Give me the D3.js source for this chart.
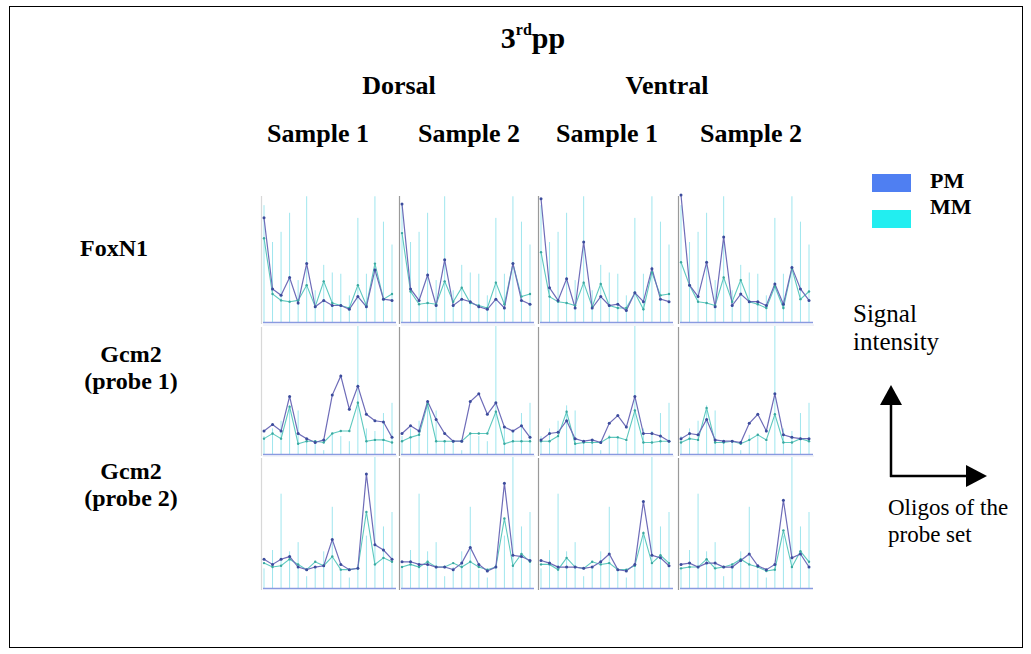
<!DOCTYPE html>
<html><head><meta charset="utf-8">
<script src="https://cdn.jsdelivr.net/npm/d3@7"></script>
<style>body{margin:0;background:#fff}svg{display:block}</style>
</head><body>
<script>
const groups = ["Dorsal", "Ventral"];
const samples = ["Sample 1", "Sample 2", "Sample 1", "Sample 2"];
const genes = [["FoxN1"], ["Gcm2", "(probe 1)"], ["Gcm2", "(probe 2)"]];
const oligos = d3.range(16);
// vertical reference bars (per gene row)
const bars = [
  [92, 63, 71, 86, 33, 99, 25, 45, 39, 38, 21, 82, 38, 99, 79, 61],
  [14, 20, 26, 38, 34, 11, 10, 3, 15, 14, 10, 100, 20, 18, 32, 40],
  [15, 29, 72, 28, 35, 9, 16, 28, 62, 14, 8, 18, 40, 100, 47, 58]
];
// PM values [row][col]
const pm = [
  [[82,26,21,35,15,46,12,17,13,13,10,20,12,41,18,17],
   [93,26,17,37,13,49,13,18,16,12,10,18,11,46,17,14],
   [97,27,17,34,11,63,11,20,13,14,9,23,16,42,18,16],
   [100,29,20,47,12,67,13,22,16,16,13,30,14,43,26,17]],
  [[18,23,18,45,16,12,9,11,46,61,35,53,31,26,25,13],
   [16,22,18,41,27,16,10,10,41,47,31,40,21,18,22,13],
   [11,16,17,26,12,10,11,9,24,30,21,45,16,16,14,10],
   [12,16,15,27,11,10,10,9,24,31,18,47,15,13,12,12]],
  [[22,18,22,24,16,14,16,17,37,18,14,15,87,33,29,22],
   [20,20,18,18,16,16,14,19,31,18,13,16,80,25,24,21],
   [21,19,16,16,16,15,16,20,26,14,13,18,66,25,23,17],
   [18,19,16,19,19,16,16,21,26,17,14,18,67,23,26,16]]
];
// MM values [row][col]
const mm = [
  [[66,22,17,16,17,29,12,32,15,13,11,29,13,46,18,22],
   [70,24,14,15,14,32,16,27,15,13,11,31,14,46,20,22],
   [55,20,16,15,13,31,12,30,13,11,11,23,10,39,21,22],
   [47,29,16,15,13,35,16,33,16,14,11,28,11,42,18,24]],
  [[12,16,12,37,8,10,10,9,16,18,18,40,10,11,11,9],
   [10,13,15,39,10,10,10,10,16,16,16,33,8,10,10,10],
   [10,10,14,33,8,9,9,9,13,13,11,34,9,9,10,10],
   [9,12,11,36,9,9,10,8,11,15,11,31,9,9,12,10]],
  [[19,16,17,22,18,14,20,17,24,14,14,15,58,18,23,20],
   [16,18,16,20,16,16,19,16,20,16,14,16,53,17,26,20],
   [18,18,14,23,16,15,20,18,19,14,14,17,42,19,25,19],
   [15,16,16,22,15,16,18,22,18,16,13,14,44,16,28,20]]
];
const legendItems = [["PM", "#4f7ff2"], ["MM", "#22eef0"]];

const W = 1031, H = 654;
const svg = d3.select("body").append("svg").attr("width", W).attr("height", H);
const serif = "'Liberation Serif', 'Times New Roman', serif";

svg.append("rect").attr("x", 9.5).attr("y", 6.5).attr("width", 1013).attr("height", 641)
  .attr("fill", "none").attr("stroke", "#000").attr("stroke-width", 1);

// Title
const t = svg.append("text").attr("x", 533).attr("y", 48).attr("text-anchor", "middle")
  .attr("font-family", serif).attr("font-weight", "bold").attr("font-size", 30);
t.append("tspan").text("3");
t.append("tspan").attr("font-size", 16).attr("dy", -13).text("rd");
t.append("tspan").attr("dy", 13).text("pp");

const colX = [261, 399, 538, 678];
const rowTop = [195, 326, 457];
const rowBot = [322, 454, 588];

const groupX = [399, 667];
svg.selectAll("text.grp").data(groups).join("text").attr("class", "grp")
  .attr("x", (d, i) => groupX[i]).attr("y", 94).attr("text-anchor", "middle")
  .attr("font-family", serif).attr("font-weight", "bold").attr("font-size", 26).text(d => d);
const sampX = [318, 469, 607, 751];
svg.selectAll("text.smp").data(samples).join("text").attr("class", "smp")
  .attr("x", (d, i) => sampX[i]).attr("y", 142).attr("text-anchor", "middle")
  .attr("font-family", serif).attr("font-weight", "bold").attr("font-size", 26).text(d => d);

const geneY = [[256], [362, 389], [479, 506]];
const geneX = [114, 131, 131];
genes.forEach((g, r) => {
  g.forEach((line, k) => {
    svg.append("text").attr("x", geneX[r]).attr("y", geneY[r][k]).attr("text-anchor", "middle")
      .attr("font-family", serif).attr("font-weight", "bold").attr("font-size", 24).text(line);
  });
});

// Panels
for (let r = 0; r < 3; r++) {
  const y = d3.scaleLinear().domain([0, 100]).range([rowBot[r], rowTop[r]]);
  for (let c = 0; c < 4; c++) {
    const x0 = colX[c];
    const x = d3.scaleLinear().domain([0, 15]).range([x0 + 3, x0 + 131]);
    const g = svg.append("g");
    g.append("line").attr("x1", x0 + 0.5).attr("x2", x0 + 0.5).attr("y1", rowTop[r] + 1).attr("y2", rowBot[r] + 2)
      .attr("stroke", c === 0 ? "#d8d8d8" : "#9a9a9a").attr("stroke-width", 1.2);
    if (r > 0) g.append("line").attr("x1", x0 + 2).attr("x2", x0 + 136).attr("y1", rowTop[r] - 1).attr("y2", rowTop[r] - 1)
      .attr("stroke", "#e4e8f4").attr("stroke-width", 1);
    g.selectAll("line.bar").data(oligos).join("line").attr("class", "bar")
      .attr("x1", d => x(d)).attr("x2", d => x(d))
      .attr("y1", y(0)).attr("y2", d => y(bars[r][d]))
      .attr("stroke", "#9fe6ee").attr("stroke-width", 1);
    g.append("line").attr("x1", x0 + 2).attr("x2", x0 + 135).attr("y1", y(0) + 0.5).attr("y2", y(0) + 0.5)
      .attr("stroke", "#8a9ae0").attr("stroke-width", 1.3);
    const line = d3.line().x((d, i) => x(i)).y(d => y(d));
    g.append("path").attr("d", line(mm[r][c])).attr("fill", "none").attr("stroke", "#5ec9bf").attr("stroke-width", 1.1);
    g.append("path").attr("d", line(pm[r][c])).attr("fill", "none").attr("stroke", "#6e6cb8").attr("stroke-width", 1.2);
    g.selectAll("circle.mm").data(mm[r][c]).join("circle").attr("class", "mm")
      .attr("cx", (d, i) => x(i)).attr("cy", d => y(d)).attr("r", 1.2).attr("fill", "#3aa8a0");
    g.selectAll("circle.pm").data(pm[r][c]).join("circle").attr("class", "pm")
      .attr("cx", (d, i) => x(i)).attr("cy", d => y(d)).attr("r", 1.5).attr("fill", "#3c4c9c");
  }
}

// Legend
legendItems.forEach(([name, col], i) => {
  svg.append("rect").attr("x", 872).attr("y", 174 + i * 36).attr("width", 39).attr("height", 18).attr("fill", col);
  svg.append("text").attr("x", 930).attr("y", 188 + i * 26).attr("font-family", serif)
    .attr("font-weight", "bold").attr("font-size", 22).text(name);
});

// Axis annotation
svg.append("text").attr("x", 853).attr("y", 322).attr("font-family", serif).attr("font-size", 25).text("Signal");
svg.append("text").attr("x", 853).attr("y", 350).attr("font-family", serif).attr("font-size", 25).text("intensity");
svg.append("line").attr("x1", 891).attr("y1", 477).attr("x2", 891).attr("y2", 400).attr("stroke", "#000").attr("stroke-width", 2.5);
svg.append("path").attr("d", "M880,405 L891,385 L902,405 Z").attr("fill", "#000");
svg.append("line").attr("x1", 890).attr("y1", 476).attr("x2", 970).attr("y2", 476).attr("stroke", "#000").attr("stroke-width", 2.5);
svg.append("path").attr("d", "M966,465 L987,476 L966,487 Z").attr("fill", "#000");
svg.append("text").attr("x", 888).attr("y", 515).attr("font-family", serif).attr("font-size", 23).text("Oligos of the");
svg.append("text").attr("x", 888).attr("y", 542).attr("font-family", serif).attr("font-size", 23).text("probe set");
</script>
</body></html>
